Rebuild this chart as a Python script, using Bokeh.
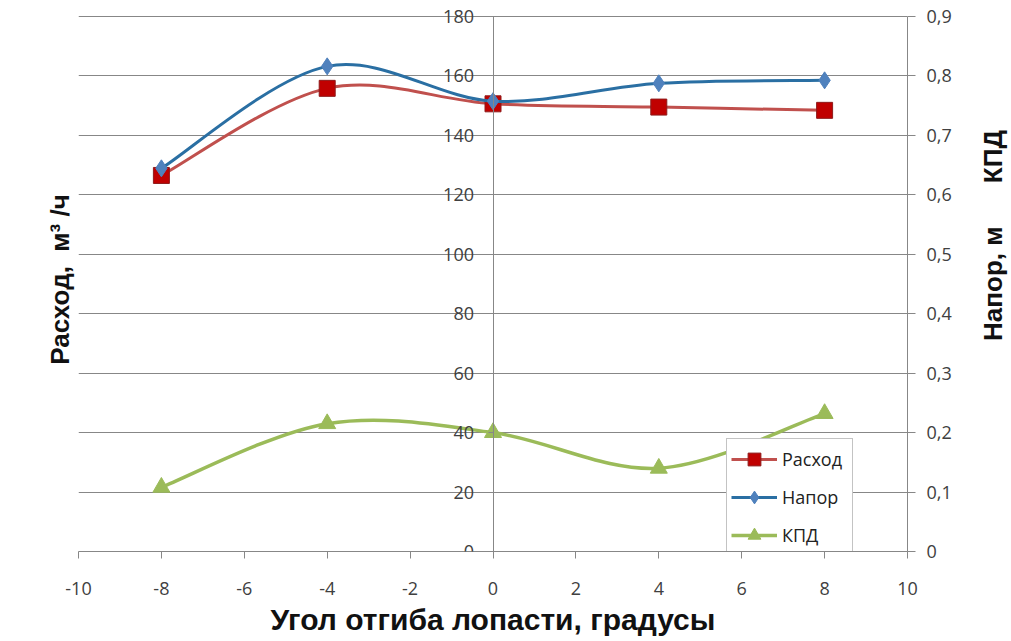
import math
from bokeh.plotting import figure
from bokeh.layouts import row
from bokeh.models import (Range1d, LinearAxis, FixedTicker, CustomJSTickFormatter,
                          Legend, LegendItem, Title, Label, ColumnDataSource)
from bokeh.embed import file_html
from bokeh.resources import INLINE

# ---- data ----
angles = [-8, -4, 0, 4, 8]
rashod = [126.5, 155.8, 150.6, 149.5, 148.4]      # left axis
napor = [128.9, 163.2, 151.5, 157.5, 158.5]       # left axis scale
kpd = [0.108, 0.215, 0.2, 0.14, 0.232]            # right axis

x_ticks = [-10, -8, -6, -4, -2, 0, 2, 4, 6, 8, 10]
left_ticks = [0, 20, 40, 60, 80, 100, 120, 140, 160, 180]
right_ticks = [0, 0.1, 0.2, 0.3, 0.4, 0.5, 0.6, 0.7, 0.8, 0.9]

x_title = "Угол отгиба лопасти, градусы"
left_title = "Расход,\u00a0\u00a0м³\u00a0/ч"
right_title = "Напор, м\u00a0\u00a0\u00a0\u00a0\u00a0\u00a0КПД"
names = ["Расход", "Напор", "КПД"]

TICK_FONT = "Open Sans"
TITLE_FONT = "Liberation Sans"
GRID = "#878787"
TICK_COL = "#404040"

W_MAIN, W_SIDE, H = 978, 33, 641
Y_HI = 183.0          # a little head-room so the top tick label is not clipped
RIGHT_SCALE = 200.0
TOP, BOTTOM = 7, 90


def smooth(xs, ys):
    n = len(xs)
    d = dict(x0=[], y0=[], x1=[], y1=[], cx0=[], cy0=[], cx1=[], cy1=[])
    for i in range(n - 1):
        ip = max(i - 1, 0)
        inn = min(i + 2, n - 1)
        d["x0"].append(xs[i]); d["y0"].append(ys[i])
        d["x1"].append(xs[i + 1]); d["y1"].append(ys[i + 1])
        d["cx0"].append(xs[i] + (xs[i + 1] - xs[ip]) / 6)
        d["cy0"].append(ys[i] + (ys[i + 1] - ys[ip]) / 6)
        d["cx1"].append(xs[i + 1] - (xs[inn] - xs[i]) / 6)
        d["cy1"].append(ys[i + 1] - (ys[inn] - ys[i]) / 6)
    return ColumnDataSource(d)


p = figure(width=W_MAIN, height=H, x_range=Range1d(-10, 10), y_range=Range1d(0, Y_HI),
           output_backend="svg", toolbar_location=None,
           min_border_left=78, min_border_right=71, min_border_top=TOP,
           min_border_bottom=BOTTOM)
p.extra_y_ranges = {"right": Range1d(0, Y_HI / RIGHT_SCALE)}
p.outline_line_color = None
p.background_fill_color = "white"
p.border_fill_color = "white"

p.xgrid.visible = False
p.ygrid.ticker = FixedTicker(ticks=left_ticks)
p.ygrid.grid_line_color = GRID
p.ygrid.grid_line_width = 1

# bottom axis
xa = p.xaxis[0]
xa.ticker = FixedTicker(ticks=x_ticks)
xa.formatter = CustomJSTickFormatter(code="return tick.toString();")
xa.axis_line_color = GRID
xa.major_tick_line_color = GRID
xa.major_tick_in = 0
xa.major_tick_out = 7
xa.minor_tick_line_color = None
xa.major_label_text_font = TICK_FONT
xa.major_label_text_font_size = "18px"
xa.major_label_text_color = TICK_COL
xa.major_label_standoff = 23
xa.axis_label = x_title
xa.axis_label_text_font = TITLE_FONT
xa.axis_label_text_font_style = "bold"
xa.axis_label_text_font_size = "30px"
xa.axis_label_text_color = "#111111"
xa.axis_label_standoff = 5

# left axis placed at x = 0
ya = p.yaxis[0]
ya.fixed_location = 0
ya.bounds = (0, 180)
ya.ticker = FixedTicker(ticks=left_ticks)
ya.axis_line_color = GRID
ya.major_tick_line_color = GRID
ya.major_tick_in = 0
ya.major_tick_out = 5
ya.minor_tick_line_color = None
ya.major_label_text_font = TICK_FONT
ya.major_label_text_font_size = "18px"
ya.major_label_text_color = TICK_COL
ya.major_label_standoff = 14

# right axis
ra = LinearAxis(y_range_name="right", ticker=FixedTicker(ticks=right_ticks),
                bounds=(0, 0.9),
                formatter=CustomJSTickFormatter(
                    code="return tick === 0 ? '0' : tick.toFixed(1).replace('.', ',');"))
ra.axis_line_color = GRID
ra.major_tick_line_color = GRID
ra.major_tick_in = 0
ra.major_tick_out = 8
ra.minor_tick_line_color = None
ra.major_label_text_font = TICK_FONT
ra.major_label_text_font_size = "18px"
ra.major_label_text_color = TICK_COL
ra.major_label_standoff = 11
p.add_layout(ra, "right")

# left title
p.add_layout(Title(text=left_title, align="center", text_font=TITLE_FONT,
                   text_font_style="bold", text_font_size="26px",
                   text_color="#111111", standoff=7), "left")

# series
red_line, red_fill, red_edge = "#C0504D", "#C00000", "#8E1B1B"
blue_line, blue_fill = "#2A6FA3", "#4F81BD"
green = "#9BBB59"

g_line = p.bezier("x0", "y0", "x1", "y1", "cx0", "cy0", "cx1", "cy1",
                  source=smooth(angles, kpd), y_range_name="right",
                  line_color=green, line_width=3.5)
g_pts = p.scatter(angles, kpd, y_range_name="right", marker="triangle", size=17,
                  fill_color=green, line_color=green)

r_line = p.bezier("x0", "y0", "x1", "y1", "cx0", "cy0", "cx1", "cy1",
                  source=smooth(angles, rashod), line_color=red_line, line_width=3)
r_pts = p.scatter(angles, rashod, marker="square", size=16,
                  fill_color=red_fill, line_color=red_edge)

b_line = p.bezier("x0", "y0", "x1", "y1", "cx0", "cy0", "cx1", "cy1",
                  source=smooth(angles, napor), line_color=blue_line, line_width=3)
b_pts = p.scatter(angles, napor, marker="diamond", size=17,
                  fill_color=blue_fill, line_color=blue_fill)

legend = Legend(items=[
    LegendItem(label=names[0], renderers=[r_line, r_pts]),
    LegendItem(label=names[1], renderers=[b_line, b_pts]),
    LegendItem(label=names[2], renderers=[g_line, g_pts]),
], location=(648, -5))
legend.border_line_color = "#888888"
legend.border_line_width = 1
legend.background_fill_color = "white"
legend.background_fill_alpha = 1
legend.label_text_font = TICK_FONT
legend.label_text_font_size = "18px"
legend.label_text_color = "#222222"
legend.glyph_width = 46
legend.glyph_height = 32
legend.label_height = 32
legend.label_width = 66
legend.label_standoff = 5
legend.padding = 4
legend.spacing = 6
legend.margin = 0
p.add_layout(legend, "center")

# narrow side figure that carries the right-hand title, read bottom to top;
# its frame matches the main frame, so the same y scale is used
side = figure(width=W_SIDE, height=H, x_range=Range1d(0, W_SIDE), y_range=Range1d(0, Y_HI),
              output_backend="svg", toolbar_location=None,
              min_border_left=0, min_border_right=0, min_border_top=TOP,
              min_border_bottom=BOTTOM)
side.axis.visible = False
side.grid.visible = False
side.outline_line_color = None
side.background_fill_color = "white"
side.border_fill_color = "white"
side.add_layout(Label(x=14, y=106.3, text=right_title, angle=math.pi / 2,
                      text_align="center", text_baseline="middle",
                      text_font=TITLE_FONT, text_font_style="bold", text_font_size="26px",
                      text_color="#111111"))

layout = row(p, side, spacing=0)
open("out.html", "w").write(file_html(layout, INLINE))
